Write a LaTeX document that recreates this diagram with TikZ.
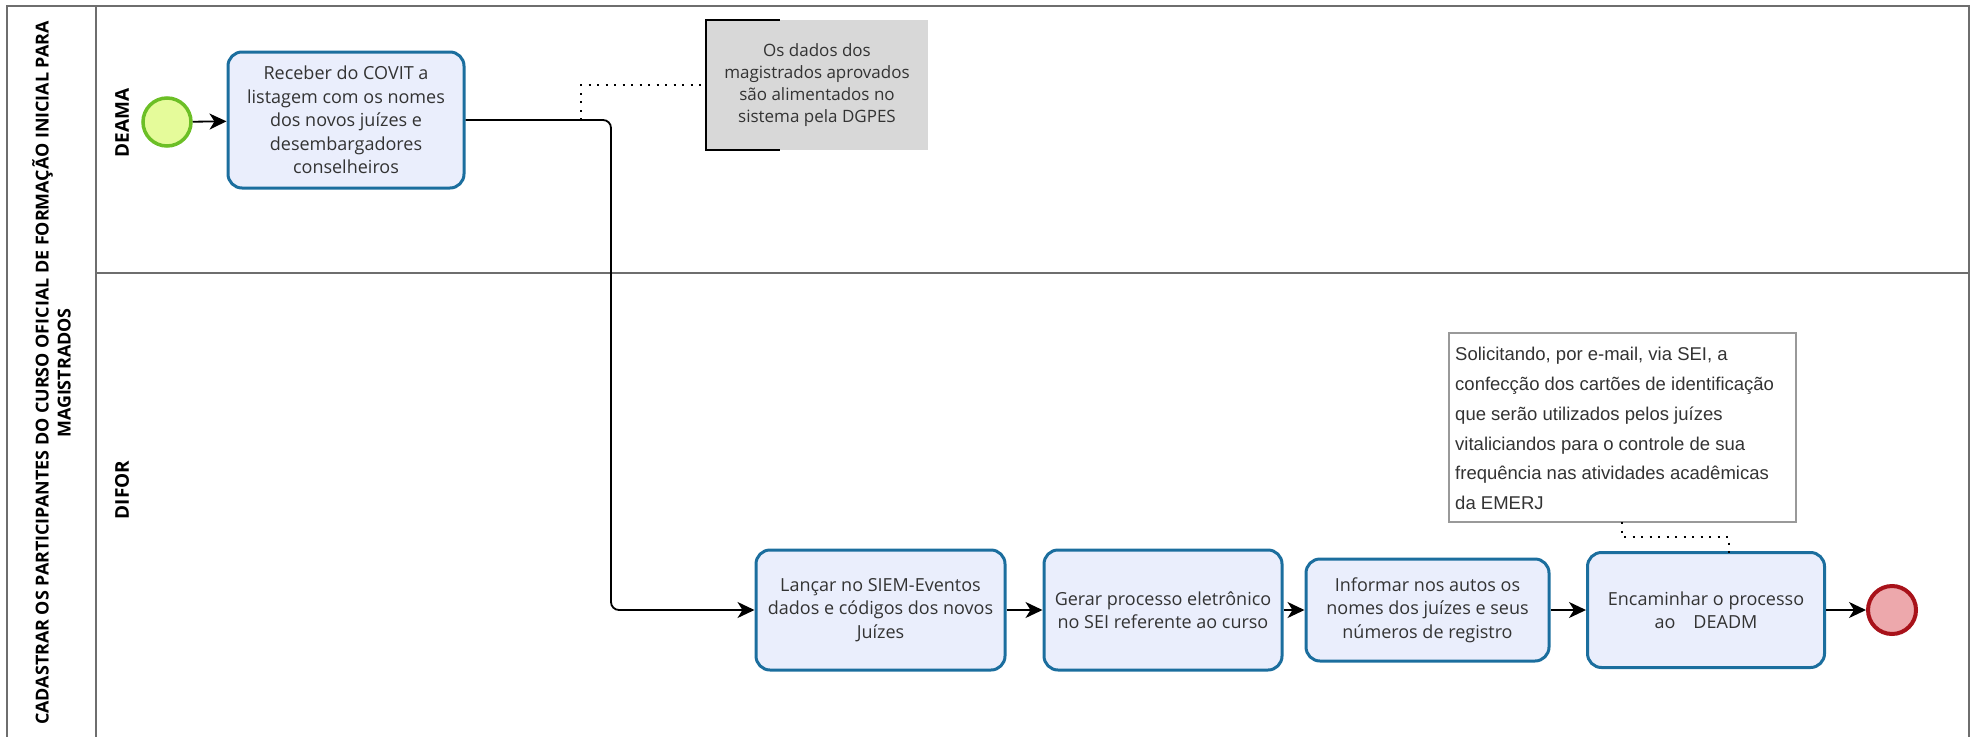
\documentclass[tikz,border=0pt]{standalone}
\usepackage{fontspec}
\setmainfont{Open Sans}
\newfontfamily\arialf{Liberation Sans}
\usetikzlibrary{arrows.meta,calc}
\definecolor{taskblue}{HTML}{1B6E9E}
\definecolor{taskfill}{HTML}{EAEEFC}
\definecolor{startstroke}{HTML}{6CBF26}
\definecolor{startfill}{HTML}{E5FB9A}
\definecolor{endstroke}{HTML}{A8121A}
\definecolor{endfill}{HTML}{EDA8AC}
\definecolor{poolgray}{HTML}{6E6E6E}
\definecolor{txt}{HTML}{333333}
\definecolor{annfill}{HTML}{D8D8D8}
\begin{document}
\begin{tikzpicture}[x=1pt,y=-1pt,
  task/.style={draw=taskblue, line width=3pt, fill=taskfill, rounded corners=14pt,
    align=center, inner sep=0pt, text=txt, font=\fontsize{18}{23.5}\selectfont},
  startev/.style={circle, draw=startstroke, fill=startfill, line width=3.5pt, minimum size=48pt, inner sep=0pt},
  endev/.style={circle, draw=endstroke, fill=endfill, line width=4pt, minimum size=48pt, inner sep=0pt},
  flow/.style={draw=black, line width=1.8pt, rounded corners=8pt, -{Stealth[length=17pt,width=16pt,inset=5pt]}},
  assoc/.style={draw=black, line width=1.6pt, dash pattern=on 2pt off 6.5pt},
  lanelabel/.style={rotate=90, font=\bfseries\fontsize{19}{22}\selectfont, text=black},
  poolline/.style={draw=poolgray, line width=2pt}]
\useasboundingbox (0,0) rectangle (1977,736);
% pool frame
\draw[poolline] (7,745) -- (7,6) -- (1969,6) -- (1969,745);
\draw[poolline] (96,6) -- (96,745);
\draw[poolline] (96,273) -- (1969,273);
\node[rotate=90, align=center, font=\bfseries\fontsize{17.9}{22}\selectfont] (pooltitle) at (51.5,373)
  {CADASTRAR OS PARTICIPANTES DO CURSO OFICIAL DE FORMAÇÃO INICIAL PARA\\MAGISTRADOS};
\node[lanelabel] (deama) at (122,123) {DEAMA};
\node[lanelabel] (difor) at (122,490) {DIFOR};
% events and tasks
\node[startev] (start) at (167,122) {};
\node[task, minimum width=236pt, minimum height=136pt] (t1) at (346,120)
  {Receber do COVIT a\\listagem com os nomes\\dos novos juízes e\\desembargadores\\conselheiros};
\node[task, minimum width=249pt, minimum height=120pt] (t2) at (880.5,610)
  {Lançar no SIEM-Eventos\\dados e códigos dos novos\\Juízes};
\node[task, minimum width=238pt, minimum height=120pt] (t3) at (1163,610)
  {Gerar processo eletrônico\\no SEI referente ao curso};
\node[task, minimum width=243pt, minimum height=102pt] (t4) at (1427.5,610)
  {Informar nos autos os\\nomes dos juízes e seus\\números de registro};
\node[task, minimum width=237pt, minimum height=115pt] (t5) at (1706,610)
  {Encaminhar o processo\\ao\quad DEADM};
\node[endev] (end) at (1892,610) {};
% annotations
\node[fill=annfill, minimum width=222pt, minimum height=130pt, inner sep=0pt, align=center,
  text=txt, font=\fontsize{17}{22}\selectfont] (a1) at (817,85)
  {Os dados dos\\magistrados aprovados\\são alimentados no\\sistema pela DGPES};
\draw[black, line width=1.6pt] ($(a1.north west)+(74,0)$) -- (a1.north west) -- (a1.south west) -- ($(a1.south west)+(74,0)$);
\node[draw=black!40, line width=1.5pt, fill=white, minimum width=347pt, minimum height=189pt,
  inner sep=0pt] (a2) at (1622.5,427.5) {};
\node[anchor=north west, align=left, text=txt, font=\arialf\fontsize{18.5}{29.8}\selectfont, inner sep=0pt]
  (a2txt) at (1455,347)
  {Solicitando, por e-mail, via SEI, a\\confecção dos cartões de identificação\\que serão utilizados pelos juízes\\vitaliciandos para o controle de sua\\frequência nas atividades acadêmicas\\da EMERJ};
% flows
\draw[flow] (start) -- (t1);
\coordinate (bend1) at (611,120);
\draw[flow] (t1.east) -- (bend1) -- (611,610) -- (t2.west);
\draw[flow] (t2) -- (t3);
\draw[flow] (t3) -- (t4);
\draw[flow] (t4) -- (t5);
\draw[flow] (t5) -- (end);
% associations
\coordinate (as1) at (581,120);
\draw[assoc] (as1) -- (581,85) -- (a1.west);
\coordinate (as2) at (1622,522);
\draw[assoc] (as2) -- (1622,537) -- (1729,537) -- (1729,553);
\end{tikzpicture}
\end{document}
